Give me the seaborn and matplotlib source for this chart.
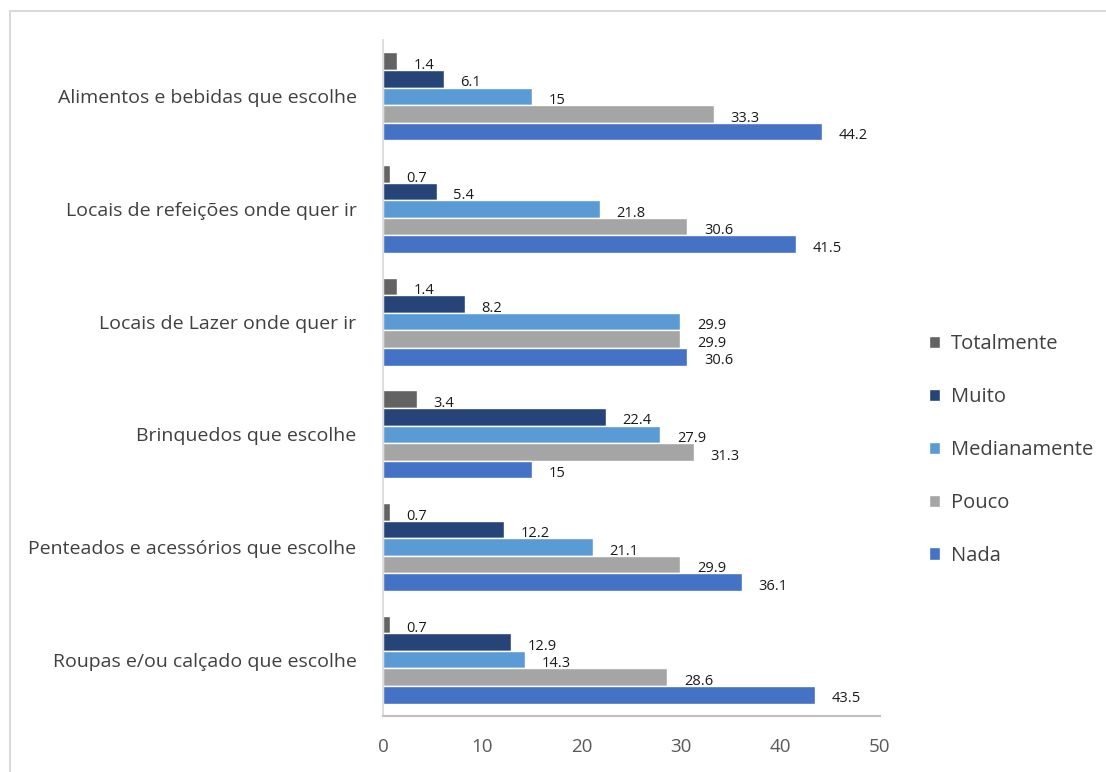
import matplotlib
matplotlib.use("Agg")
import matplotlib.pyplot as plt
import seaborn as sns
import pandas as pd
from matplotlib.patches import Rectangle

categories = [
    "Alimentos e bebidas que escolhe",
    "Locais de refeições onde quer ir",
    "Locais de Lazer onde quer ir",
    "Brinquedos que escolhe",
    "Penteados e acessórios que escolhe",
    "Roupas e/ou calçado que escolhe",
]
series = ["Totalmente", "Muito", "Medianamente", "Pouco", "Nada"]
totalmente = [1.4, 0.7, 1.4, 3.4, 0.7, 0.7]
muito = [6.1, 5.4, 8.2, 22.4, 12.2, 12.9]
medianamente = [15, 21.8, 29.9, 27.9, 21.1, 14.3]
pouco = [33.3, 30.6, 29.9, 31.3, 29.9, 28.6]
nada = [44.2, 41.5, 30.6, 15, 36.1, 43.5]
colors = ["#636363", "#264478", "#5B9BD5", "#A5A5A5", "#4472C4"]
xticks = [0, 10, 20, 30, 40, 50]

rows = []
for s, vals in zip(series, [totalmente, muito, medianamente, pouco, nada]):
    for c, v in zip(categories, vals):
        rows.append({"cat": c, "serie": s, "valor": v})
df = pd.DataFrame(rows)

sns.set_theme(style="white")
plt.rcParams["font.family"] = ["Open Sans", "DejaVu Sans"]

fig = plt.figure(figsize=(11.06, 7.72), dpi=100)
ax = fig.add_axes([383 / 1106, 56 / 772, (880 - 383) / 1106, (732 - 56) / 772])

sns.barplot(data=df, y="cat", x="valor", hue="serie", order=categories,
            hue_order=series, palette=colors, orient="h", width=0.78,
            dodge=True, saturation=1, ax=ax, errorbar=None, legend=True)

for cont in ax.containers:
    for p in cont.patches:
        w = p.get_width()
        y = p.get_y() + p.get_height() / 2
        ax.annotate(f"{w:g}", xy=(w, y), xytext=(12, -3), textcoords="offset points",
                    ha="left", va="center", fontsize=10.5, color="#1a1a1a")

ax.set_xlim(0, 50)
ax.set_xticks(xticks)
ax.set_xticklabels([str(t) for t in xticks], fontsize=13.5, color="#595959")
ax.set_ylabel("")
ax.set_xlabel("")
ax.tick_params(axis="y", labelsize=14, labelcolor="#404040", length=0, pad=19)
ax.tick_params(axis="x", length=0, pad=16)
for s in ["top", "right"]:
    ax.spines[s].set_visible(False)
ax.spines["left"].set_color("#D9D9D9")
ax.spines["bottom"].set_color("#BFBFBF")
ax.spines["bottom"].set_linewidth(1.5)

handles, labels = ax.get_legend_handles_labels()
ax.legend(handles, labels, loc="center left", bbox_to_anchor=(929 / 1106, 322 / 772),
          bbox_transform=fig.transFigure, frameon=False, fontsize=14.5,
          labelcolor="#404040", handlelength=0.55, handleheight=0.55,
          handletextpad=0.55, labelspacing=1.63, borderpad=0, borderaxespad=0)

fig.patches.append(Rectangle((10 / 1106, -0.1), 1.2, (772 - 11) / 772 + 0.1,
                             transform=fig.transFigure, fill=False,
                             edgecolor="#D9D9D9", linewidth=1.5))

fig.savefig("out.png", dpi=100)
